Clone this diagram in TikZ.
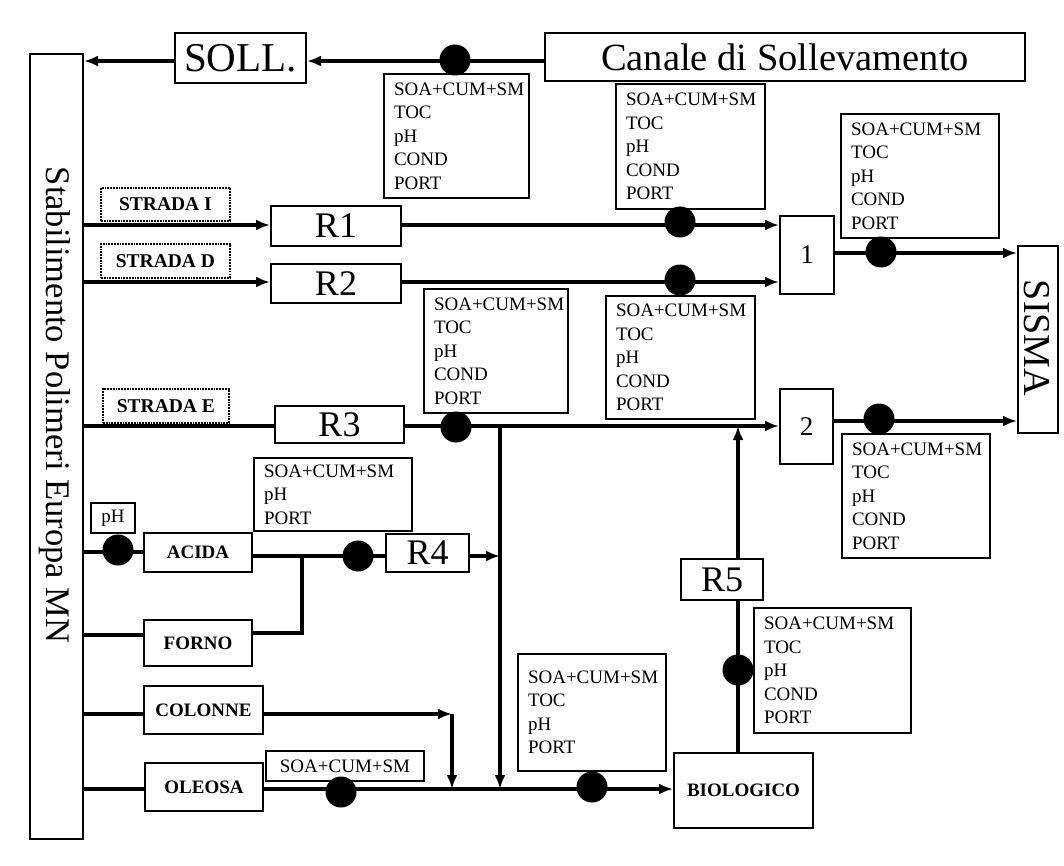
\documentclass[tikz,border=0pt]{standalone}
\usepackage{fontspec}
\setmainfont{Liberation Serif}
\usetikzlibrary{arrows.meta}
\tikzset{
  bx/.style={draw, line width=2pt, inner sep=0pt, anchor=north west, font=\fontsize{19}{22}\selectfont\bfseries},
  bigbx/.style={draw, line width=2pt, inner sep=0pt, anchor=north west, font=\fontsize{36}{40}\selectfont},
  numbx/.style={draw, line width=2pt, inner sep=0pt, anchor=north west, font=\fontsize{27}{30}\selectfont},
  strada/.style={draw, densely dotted, line width=1.8pt, inner sep=0pt, anchor=north west, font=\fontsize{19.5}{22}\selectfont\bfseries},
  meas/.style 2 args={draw, line width=2pt, anchor=north west, align=left, inner xsep=10pt, inner ysep=0pt, text width=#1, minimum height=#2, font=\fontsize{19}{23.5}\selectfont},
  plainbx/.style={draw, line width=2pt, inner sep=0pt, anchor=north west, font=\fontsize{19}{22}\selectfont},
  dot/.style={circle, fill=black, inner sep=0pt, minimum size=31pt},
  pipe/.style={line width=3.4pt, line join=miter},
  arr/.style={pipe, -{Latex[length=14pt,width=11pt]}},
}
\begin{document}
\begin{tikzpicture}[x=1pt,y=-1pt]
\useasboundingbox (0,0) rectangle (1064,866);

% boxes
\node[plainbx, minimum width=53pt, minimum height=785pt] (main) at (29,53) {};
\node[rotate=-90, font=\fontsize{34.5}{38}\selectfont] (maintext) at (55,405) {Stabilimento Polimeri Europa MN};
\node[bigbx, minimum width=131pt, minimum height=50pt, font=\fontsize{41}{44}\selectfont] (soll) at (174,32) {SOLL.};
\node[bigbx, minimum width=480pt, minimum height=48pt, font=\fontsize{38.5}{42}\selectfont] (canale) at (544,32) {Canale di Sollevamento};

\node[strada, minimum width=129pt, minimum height=33pt] (strI) at (100,187) {STRADA I};
\node[strada, minimum width=129pt, minimum height=34pt] (strD) at (100,243) {STRADA D};
\node[strada, minimum width=126pt, minimum height=34pt] (strE) at (102,388) {STRADA E};

\node[bigbx, minimum width=130pt, minimum height=40pt] (r1) at (270,205) {R1};
\node[bigbx, minimum width=130pt, minimum height=39pt] (r2) at (270,263) {R2};
\node[bigbx, minimum width=129pt, minimum height=37pt] (r3) at (274,405) {R3};
\node[bigbx, minimum width=83pt, minimum height=38pt] (r4) at (385,533) {R4};
\node[bigbx, minimum width=82pt, minimum height=41pt] (r5) at (680,558) {R5};

\node[numbx, minimum width=54pt, minimum height=78pt] (b1) at (779,215) {1};
\node[numbx, minimum width=53pt, minimum height=75pt] (b2) at (779,388) {2};

\node[plainbx, minimum width=40pt, minimum height=187pt] (sisma) at (1017,245) {};
\node[rotate=-90, font=\fontsize{38}{42}\selectfont] (sismatext) at (1037,338) {SISMA};

\node[plainbx, minimum width=44pt, minimum height=30pt] (ph) at (90,502) {pH};
\node[bx, minimum width=108pt, minimum height=39pt] (acida) at (143,532) {ACIDA};
\node[bx, minimum width=108pt, minimum height=46pt] (forno) at (143,619) {FORNO};
\node[bx, minimum width=119pt, minimum height=48pt] (colonne) at (143,685) {COLONNE};
\node[bx, minimum width=118pt, minimum height=48pt] (oleosa) at (144,762) {OLEOSA};
\node[bx, minimum width=139pt, minimum height=75pt] (bio) at (673,752) {BIOLOGICO};

% measurement boxes
\node[meas={125pt}{124pt}] (mA) at (383,73) {SOA+CUM+SM\\TOC\\pH\\COND\\PORT};
\node[meas={129pt}{125pt}] (mB) at (615,83) {SOA+CUM+SM\\TOC\\pH\\COND\\PORT};
\node[meas={138pt}{124pt}] (mC) at (840,113) {SOA+CUM+SM\\TOC\\pH\\COND\\PORT};
\node[meas={124pt}{124pt}] (mD) at (423,288) {SOA+CUM+SM\\TOC\\pH\\COND\\PORT};
\node[meas={129pt}{123pt}] (mE) at (605,295) {SOA+CUM+SM\\TOC\\pH\\COND\\PORT};
\node[meas={128pt}{124pt}] (mF) at (841,433) {SOA+CUM+SM\\TOC\\pH\\COND\\PORT};
\node[meas={138pt}{73pt}] (mG) at (253,457) {SOA+CUM+SM\\pH\\PORT};
\node[meas={137pt}{125pt}] (mH) at (753,607) {SOA+CUM+SM\\TOC\\pH\\COND\\PORT};
\node[meas={128pt}{117pt}] (mI) at (517,653) {SOA+CUM+SM\\TOC\\pH\\PORT};
\node[plainbx, minimum width=158pt, minimum height=30pt] (mJ) at (265,750) {SOA+CUM+SM};

% helper coordinates
\coordinate (yTop) at (0,61);
\coordinate (yR1) at (0,225);
\coordinate (yR2) at (0,282);
\coordinate (yO1) at (0,253);
\coordinate (yR3) at (0,426);
\coordinate (yO2) at (0,421);
\coordinate (yAc) at (0,552);
\coordinate (jF) at (302,556);
\coordinate (yFi) at (0,635);
\coordinate (yFo) at (0,633);
\coordinate (cc) at (452,714);
\coordinate (cb) at (452,789);
\coordinate (yBot) at (0,789);
\coordinate (j3) at (500,426);
\coordinate (jb) at (500,789);
\coordinate (j5) at (738,426);

% connectors
\draw[arr] (canale.west |- yTop) -- (soll.east |- yTop);
\draw[arr] (soll.west |- yTop) -- (main.east |- yTop);
\draw[arr] (main.east |- yR1) -- (r1.west |- yR1);
\draw[arr] (main.east |- yR2) -- (r2.west |- yR2);
\draw[arr] (r1.east |- yR1) -- (b1.west |- yR1);
\draw[arr] (r2.east |- yR2) -- (b1.west |- yR2);
\draw[arr] (b1.east |- yO1) -- (sisma.west |- yO1);
\draw[pipe] (main.east |- yR3) -- (r3.west |- yR3);
\draw[arr] (r3.east |- yR3) -- (b2.west |- yR3);
\draw[arr] (b2.east |- yO2) -- (sisma.west |- yO2);
\draw[arr] (j3) -- (jb);
\draw[pipe] (main.east |- yAc) -- (acida.west |- yAc);
\draw[pipe] (acida.east |- jF) -- (r4.west |- jF);
\draw[arr] (r4.east |- jF) -- (j3 |- jF);
\draw[pipe] (main.east |- yFi) -- (forno.west |- yFi);
\draw[pipe] (forno.east |- yFo) -- (jF |- yFo) -- (jF);
\draw[pipe] (main.east |- cc) -- (colonne.west |- cc);
\draw[arr] (colonne.east |- cc) -- (cc);
\draw[arr] (cc) -- (cb);
\draw[pipe] (main.east |- yBot) -- (oleosa.west |- yBot);
\draw[arr] (oleosa.east |- yBot) -- (bio.west |- yBot);
\draw[arr] (j5 |- r5.north) -- (j5);
\draw[pipe] (j5 |- bio.north) -- (j5 |- r5.south);

% sampling dots
\node[dot] (dTop) at (455,60) {};
\node[dot] (dR1) at (680,222) {};
\node[dot] (dR2) at (680,280) {};
\node[dot] (dO1) at (881,252) {};
\node[dot] (dR3) at (456,427) {};
\node[dot] (dO2) at (879,419) {};
\node[dot] (dPh) at (118,550) {};
\node[dot] (dR4) at (358,556) {};
\node[dot] (dR5) at (738,670) {};
\node[dot] (dB1) at (341,792) {};
\node[dot] (dB2) at (592,787) {};
\end{tikzpicture}
\end{document}
